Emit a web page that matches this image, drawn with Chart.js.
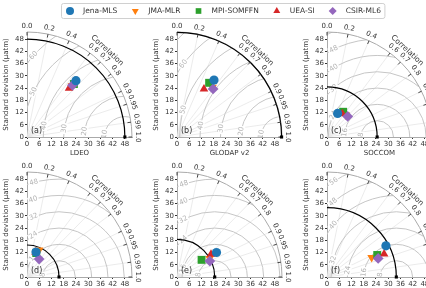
<!DOCTYPE html>
<html>
<head>
<meta charset="utf-8">
<script src="https://cdn.jsdelivr.net/npm/chart.js@4.4.1/dist/chart.umd.min.js"></script>
<style>
  html, body { margin: 0; padding: 0; background: #fff; }
  #wrap { position: relative; width: 426px; height: 288px; overflow: hidden; }
  #wrap canvas { position: absolute; }
</style>
</head>
<body>
<div id="wrap"></div>
<script>
// ---- data ----
const models = ['Jena-MLS', 'JMA-MLR', 'MPI-SOMFFN', 'UEA-SI', 'CSIR-ML6'];
const panelLetters = ['(a)', '(b)', '(c)', '(d)', '(e)', '(f)'];
const xTitles = ['LDEO', 'GLODAP v2', 'SOCCOM', '', '', ''];
const refStd = [48.0, 51.3, 24.6, 15.7, 18.5, 34.0];
const rmsStep = [10, 10, 8, 8, 8, 8];

// standard deviation (µatm) and correlation of each product, panels a-f
const stdJena = [36.6, 33.3, 12.7, 13.0, 22.8, 32.7];
const corJena = [0.656, 0.545, 0.41, 0.34, 0.85, 0.884];
const stdJma  = [33.4, 30.0, 14.2, 14.5, 18.4, 23.9];
const corJma  = [0.66, 0.58, 0.65, 0.41, 0.87, 0.916];
const stdMpi  = [34.7, 30.9, 14.7, 12.6, 14.7, 26.9];
const corMpi  = [0.663, 0.51, 0.54, 0.36, 0.82, 0.916];
const stdUea  = [31.6, 27.0, 13.7, 12.8, 20.1, 30.2];
const corUea  = [0.653, 0.49, 0.55, 0.33, 0.83, 0.927];
const stdCsir = [33.8, 29.5, 14.3, 10.6, 17.9, 26.7];
const corCsir = [0.66, 0.60, 0.71, 0.56, 0.90, 0.94];

const stdTicks = [0, 6, 12, 18, 24, 30, 36, 42, 48];
const corTicks = [0, 0.2, 0.4, 0.6, 0.7, 0.8, 0.9, 0.95, 0.99, 1.0];
const corLabels = ['0.0', '0.2', '0.4', '0.6', '0.7', '0.8', '0.9', '0.95', '0.99', '1.0'];
const RMAX = 51.5;

// ---- styling ----
const colors = ['#1f77b4', '#ff7f0e', '#2ca02c', '#d62728', '#9467bd'];
const markers = ['circle', 'triangle', 'rect', 'triangle', 'rectRot'];
const rotations = [0, 180, 0, 0, 0];
const sizes = [4.6, 5, 5.6, 5, 5.4];
const drawOrder = [0, 4, 3, 2, 1];
const modelStd = [stdJena, stdJma, stdMpi, stdUea, stdCsir];
const modelCor = [corJena, corJma, corMpi, corUea, corCsir];

Chart.defaults.font.family = '"DejaVu Sans", sans-serif';
Chart.defaults.color = '#333';

const wrap = document.getElementById('wrap');
function addCanvas(left, top, w, h) {
  const c = document.createElement('canvas');
  c.width = w; c.height = h;
  c.style.left = left + 'px'; c.style.top = top + 'px';
  c.style.width = w + 'px'; c.style.height = h + 'px';
  wrap.appendChild(c);
  return c;
}

// polar (std, corr) -> cartesian for the scatter scales
function toXY(s, c) {
  return { x: s * c, y: s * Math.sqrt(1 - c * c) };
}

// Taylor diagram background: RMS contours, frame, correlation axis
function makeTaylorPlugin(i) {
  return {
    id: 'taylor' + i,
    beforeDatasetsDraw(chart) {
      const { ctx, scales: { x, y } } = chart;
      const ox = x.getPixelForValue(0), oy = y.getPixelForValue(0);
      const px = v => x.getPixelForValue(v) - ox;
      const R = px(RMAX);
      const ref = refStd[i];
      const refX = x.getPixelForValue(ref);

      ctx.save();
      // radial correlation grid
      ctx.strokeStyle = '#e6e6e6';
      ctx.lineWidth = 0.8;
      corTicks.forEach(c => {
        if (c === 0 || c === 1) return;
        const t = Math.acos(c);
        ctx.beginPath();
        ctx.moveTo(ox, oy);
        ctx.lineTo(ox + R * Math.cos(t), oy - R * Math.sin(t));
        ctx.stroke();
      });

      // clip to the quadrant
      ctx.beginPath();
      ctx.moveTo(ox, oy);
      ctx.arc(ox, oy, R, -Math.PI / 2, 0);
      ctx.closePath();
      ctx.clip();

      // centred RMS difference contours
      const step = rmsStep[i];
      ctx.strokeStyle = '#c6c6c6';
      ctx.lineWidth = 1;
      for (let r = step; r <= ref + RMAX; r += step) {
        ctx.beginPath();
        ctx.arc(refX, oy, px(r), Math.PI, 2 * Math.PI);
        ctx.stroke();
      }
      ctx.font = '7px "DejaVu Sans"';
      ctx.textAlign = 'center';
      ctx.textBaseline = 'middle';
      for (let r = step; r <= ref + RMAX; r += step) {
        let th = 172 * Math.PI / 180, found = false;
        for (; th > 0.2; th -= 0.01) {
          const lx = ref + r * Math.cos(th), ly = r * Math.sin(th);
          if (lx >= 3 && ly >= 0.8 && Math.hypot(lx, ly) <= RMAX - 3) { found = true; break; }
        }
        if (!found) continue;
        const lx = ref + r * Math.cos(th), ly = r * Math.sin(th);
        const tx = x.getPixelForValue(lx), ty = y.getPixelForValue(ly);
        const txt = String(r);
        const w = ctx.measureText(txt).width;
        ctx.save();
        ctx.translate(tx, ty);
        ctx.rotate(-(th - Math.PI / 2));
        ctx.fillStyle = '#fff';
        ctx.fillRect(-w / 2 - 1, -3.5, w + 2, 7);
        ctx.fillStyle = '#b4b4b4';
        ctx.fillText(txt, 0, 0);
        ctx.restore();
      }
      ctx.restore();

      ctx.save();
      // outer frame
      ctx.strokeStyle = '#aaa';
      ctx.lineWidth = 1;
      ctx.beginPath();
      ctx.arc(ox, oy, R, -Math.PI / 2, 0);
      ctx.stroke();
      // reference std arc
      ctx.strokeStyle = '#000';
      ctx.lineWidth = 1.2;
      ctx.beginPath();
      ctx.arc(ox, oy, px(ref), -Math.PI / 2, 0);
      ctx.stroke();

      // correlation ticks and labels
      ctx.strokeStyle = '#333';
      ctx.lineWidth = 0.9;
      ctx.fillStyle = '#333';
      ctx.font = '7px "DejaVu Sans"';
      ctx.textAlign = 'center';
      ctx.textBaseline = 'middle';
      corTicks.forEach((c, k) => {
        const t = Math.acos(c);
        const cs = Math.cos(t), sn = Math.sin(t);
        ctx.beginPath();
        ctx.moveTo(ox + R * cs, oy - R * sn);
        ctx.lineTo(ox + (R - 3.5) * cs, oy - (R - 3.5) * sn);
        ctx.stroke();
        ctx.save();
        ctx.translate(ox + (R + 6) * cs, oy - (R + 6) * sn);
        ctx.rotate(Math.PI / 2 - t);
        ctx.fillText(corLabels[k], 0, 0);
        ctx.restore();
      });
      const tc = Math.acos(0.68);
      ctx.save();
      ctx.font = '7.5px "DejaVu Sans"';
      ctx.translate(ox + (R + 13) * Math.cos(tc), oy - (R + 13) * Math.sin(tc));
      ctx.rotate(Math.PI / 2 - tc);
      ctx.fillText('Correlation', 0, 0);
      ctx.restore();

      // panel letter
      ctx.font = '8px "DejaVu Sans"';
      ctx.textAlign = 'left';
      ctx.fillText(panelLetters[i], ox + 4, oy - 6);
      ctx.restore();
    }
  };
}

for (let i = 0; i < 6; i++) {
  const col = i % 3, row = Math.floor(i / 3);
  const h = row === 0 ? 160 : 148;
  const cv = addCanvas(col * 150, row * 140, 150, h);

  const datasets = models.map((m, k) => ({
    label: m,
    data: [toXY(modelStd[k][i], modelCor[k][i])],
    pointStyle: markers[k],
    pointRotation: rotations[k],
    pointRadius: sizes[k],
    pointBackgroundColor: colors[k],
    pointBorderColor: colors[k],
    pointBorderWidth: 0,
    order: drawOrder[k],
    clip: false
  }));
  datasets.push({
    label: 'Reference',
    data: [{ x: refStd[i], y: 0 }],
    pointStyle: 'rect',
    pointRadius: 2.2,
    pointBackgroundColor: '#000',
    pointBorderWidth: 0,
    order: 9,
    clip: false
  });

  new Chart(cv, {
    type: 'scatter',
    data: { datasets },
    options: {
      responsive: false,
      animation: false,
      events: [],
      layout: { padding: { left: 0, top: 32, right: 18, bottom: 0 } },
      plugins: { legend: { display: false }, tooltip: { enabled: false } },
      scales: {
        x: {
          type: 'linear', min: 0, max: RMAX,
          afterBuildTicks: s => { s.ticks = stdTicks.map(v => ({ value: v })); },
          afterFit: s => { s.height = h - 137; },
          grid: { drawOnChartArea: false, tickLength: 2, color: '#333' },
          border: { color: '#aaa' },
          ticks: { font: { size: 7 }, color: '#333', padding: 1, maxRotation: 0, autoSkip: false },
          title: { display: xTitles[i] !== '', text: xTitles[i], font: { size: 7 }, padding: { top: 0, bottom: 3 } }
        },
        y: {
          type: 'linear', min: 0, max: RMAX,
          afterBuildTicks: s => { s.ticks = stdTicks.map(v => ({ value: v })); },
          afterFit: s => { s.width = 27; },
          grid: { drawOnChartArea: false, tickLength: 2, color: '#333' },
          border: { color: '#aaa' },
          ticks: { font: { size: 7 }, color: '#333', padding: 1, autoSkip: false },
          title: { display: true, text: 'Standard deviation (µatm)', font: { size: 7 }, padding: { top: 2, bottom: 0 } }
        }
      }
    },
    plugins: [makeTaylorPlugin(i)]
  });
}

// shared legend across the top
const legendCanvas = addCanvas(0, 0, 426, 22);
legendCanvas.style.zIndex = 5;
new Chart(legendCanvas, {
  type: 'scatter',
  data: {
    datasets: models.map((m, k) => ({
      label: m, data: [],
      pointStyle: markers[k], pointRotation: rotations[k],
      pointBackgroundColor: colors[k]
    }))
  },
  options: {
    responsive: false,
    animation: false,
    events: [],
    plugins: { legend: { display: false }, tooltip: { enabled: false } },
    scales: { x: { display: false }, y: { display: false } }
  },
  plugins: [{
    id: 'topLegend',
    afterDraw(chart) {
      const ctx = chart.ctx;
      const ds = chart.data.datasets;
      ctx.save();
      ctx.font = '7.5px "DejaVu Sans"';
      const widths = ds.map(d => ctx.measureText(d.label).width);
      let x0 = 70;
      const xs = widths.map(w => { const p = x0; x0 += 13 + w + 18; return p; });
      const right = xs[xs.length - 1] + 13 + widths[widths.length - 1] + 4;
      ctx.fillStyle = '#fff';
      ctx.strokeStyle = '#d0d0d0';
      ctx.lineWidth = 1;
      ctx.beginPath();
      ctx.roundRect(61.5, 3.5, right - 61.5, 15, 2);
      ctx.fill();
      ctx.stroke();
      ds.forEach((d, k) => {
        ctx.fillStyle = d.pointBackgroundColor;
        Chart.helpers.drawPoint(ctx, { pointStyle: d.pointStyle, rotation: d.pointRotation, radius: 4, borderWidth: 0 }, xs[k], 11);
        ctx.fillStyle = '#333';
        ctx.textAlign = 'left';
        ctx.textBaseline = 'middle';
        ctx.fillText(d.label, xs[k] + 13, 11);
      });
      ctx.restore();
    }
  }]
});
</script>
</body>
</html>
